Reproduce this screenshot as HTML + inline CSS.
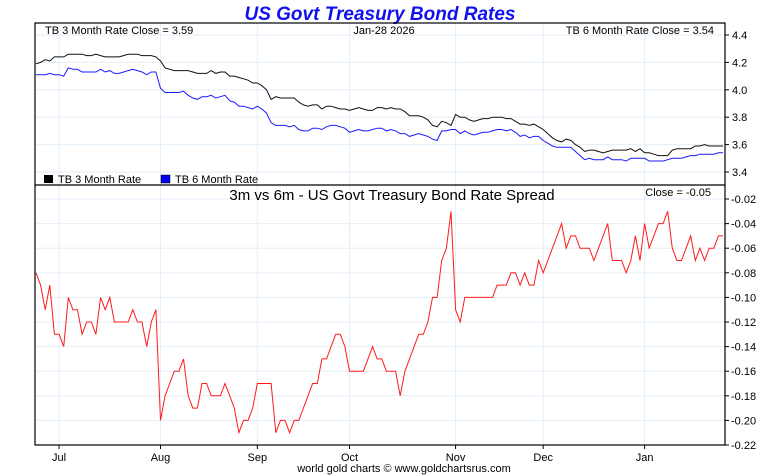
<!DOCTYPE html>
<html><head><meta charset="utf-8"><style>
body{margin:0;background:#fff;}
svg{display:block;font-family:"Liberation Sans",sans-serif;}
</style></head><body>
<svg id="chart" width="760" height="475">
<text x="380" y="20" text-anchor="middle" font-size="19" font-weight="bold" font-style="italic" fill="#1111ee">US Govt Treasury Bond Rates</text>
<g id="grid"></g>
<g id="series"></g>
<rect x="35" y="23" width="690" height="422" fill="none" stroke="#000" stroke-width="1.2"/>
<line x1="35" y1="185" x2="725" y2="185" stroke="#000" stroke-width="1.2"/>
<text x="45" y="34" font-size="11">TB 3 Month Rate Close = 3.59</text>
<text x="384" y="34" text-anchor="middle" font-size="11">Jan-28  2026</text>
<text x="714" y="34" text-anchor="end" font-size="11">TB 6 Month Rate Close = 3.54</text>
<g>
<rect x="44" y="175" width="9" height="8" fill="#000"/>
<text x="58" y="183" font-size="11">TB 3 Month Rate</text>
<rect x="161" y="175" width="9" height="8" fill="#0000ee" stroke="#000" stroke-width="0.5"/>
<text x="175" y="183" font-size="11">TB 6 Month Rate</text>
</g>
<text x="392" y="200" text-anchor="middle" font-size="15">3m vs 6m - US Govt Treasury Bond Rate Spread</text>
<text x="711" y="196" text-anchor="end" font-size="11">Close = -0.05</text>
<text x="404" y="472" text-anchor="middle" font-size="11">world gold charts © www.goldchartsrus.com</text>
</svg>
<script>
const monthLabels=["Jul","Aug","Sep","Oct","Nov","Dec","Jan"];
const monthIndex=[6,28,49,69,92,111,133];
const rateTicks=[4.4,4.2,4.0,3.8,3.6,3.4];
const spreadTicks=[-0.02,-0.04,-0.06,-0.08,-0.10,-0.12,-0.14,-0.16,-0.18,-0.20,-0.22];
const tb3=[4.19,4.20,4.22,4.21,4.24,4.24,4.24,4.26,4.26,4.26,4.26,4.25,4.25,4.26,4.25,4.24,4.24,4.24,4.24,4.25,4.26,4.26,4.26,4.25,4.25,4.25,4.24,4.21,4.16,4.15,4.14,4.14,4.14,4.14,4.13,4.12,4.12,4.12,4.14,4.12,4.13,4.13,4.10,4.10,4.09,4.08,4.07,4.05,4.05,4.03,4.00,3.93,3.95,3.94,3.94,3.94,3.94,3.91,3.89,3.88,3.89,3.89,3.86,3.88,3.88,3.87,3.86,3.86,3.85,3.86,3.87,3.86,3.85,3.85,3.87,3.87,3.86,3.87,3.86,3.86,3.84,3.81,3.81,3.81,3.80,3.78,3.74,3.73,3.77,3.76,3.74,3.82,3.80,3.80,3.78,3.77,3.78,3.79,3.79,3.80,3.80,3.80,3.79,3.79,3.77,3.75,3.75,3.74,3.75,3.73,3.71,3.68,3.65,3.63,3.62,3.64,3.63,3.60,3.58,3.55,3.56,3.56,3.55,3.54,3.55,3.56,3.56,3.56,3.56,3.57,3.55,3.57,3.54,3.54,3.53,3.52,3.52,3.52,3.56,3.57,3.57,3.57,3.57,3.59,3.59,3.60,3.59,3.59,3.59,3.59];
const spread=[-0.08,-0.09,-0.11,-0.09,-0.13,-0.13,-0.14,-0.10,-0.11,-0.11,-0.13,-0.12,-0.12,-0.13,-0.10,-0.11,-0.10,-0.12,-0.12,-0.12,-0.12,-0.11,-0.12,-0.12,-0.14,-0.12,-0.11,-0.20,-0.18,-0.17,-0.16,-0.16,-0.15,-0.18,-0.19,-0.19,-0.17,-0.17,-0.18,-0.18,-0.18,-0.17,-0.18,-0.19,-0.21,-0.20,-0.20,-0.19,-0.17,-0.17,-0.17,-0.17,-0.21,-0.20,-0.20,-0.21,-0.20,-0.20,-0.19,-0.18,-0.17,-0.17,-0.15,-0.15,-0.14,-0.13,-0.13,-0.14,-0.16,-0.16,-0.16,-0.16,-0.15,-0.14,-0.15,-0.15,-0.16,-0.16,-0.16,-0.18,-0.16,-0.15,-0.14,-0.13,-0.13,-0.12,-0.10,-0.10,-0.07,-0.06,-0.03,-0.11,-0.12,-0.10,-0.10,-0.10,-0.10,-0.10,-0.10,-0.10,-0.09,-0.09,-0.09,-0.08,-0.08,-0.09,-0.08,-0.09,-0.09,-0.07,-0.08,-0.07,-0.06,-0.05,-0.04,-0.06,-0.05,-0.05,-0.06,-0.06,-0.06,-0.07,-0.06,-0.05,-0.04,-0.07,-0.07,-0.07,-0.08,-0.07,-0.05,-0.07,-0.04,-0.06,-0.05,-0.04,-0.04,-0.03,-0.06,-0.07,-0.07,-0.06,-0.05,-0.07,-0.06,-0.07,-0.06,-0.06,-0.05,-0.05];
const tb6=tb3.map((v,i)=>v+spread[i]);

const NS="http://www.w3.org/2000/svg";
const n=spread.length;
function xs(i){return 36+(723-36)*i/(n-1);}
function yr(v){return 35+(4.4-v)/1.0*137;}
function ysp(v){return 199+(-0.02-v)/0.20*246;}
function mk(tag,attrs,parent){const e=document.createElementNS(NS,tag);for(const k in attrs)e.setAttribute(k,attrs[k]);parent.appendChild(e);return e;}
const grid=document.getElementById('grid'), ser=document.getElementById('series'), svg=document.getElementById('chart');

rateTicks.forEach(t=>{
  const y=yr(t);
  const g=mk('line',{x1:35,x2:725,y1:y,y2:y,stroke:'#e3eef8'},grid);
  
  
  const tk=mk('line',{x1:725,x2:729,y1:y,y2:y,stroke:'#000'},svg);
  
  
  const tx=mk('text',{x:732,y:y+4,'font-size':11},svg);
  tx.textContent=t.toFixed(1);
  
  
});
spreadTicks.forEach(t=>{
  const y=ysp(t);
  const g=mk('line',{x1:35,x2:725,y1:y,y2:y,stroke:'#e3eef8'},grid);
  
  
  const tk=mk('line',{x1:725,x2:729,y1:y,y2:y,stroke:'#000'},svg);
  
  
  const tx=mk('text',{x:731,y:y+4,'font-size':11},svg);
  tx.textContent=t.toFixed(2);
  
  
});
monthIndex.forEach((mi,k)=>{
  const x=xs(mi-1);
  const g=mk('line',{x1:x,x2:x,y1:23,y2:445,stroke:'#e3eef8'},grid);
  
  
  const tk=mk('line',{x1:x,x2:x,y1:445,y2:449,stroke:'#000'},svg);
  
  
  const tx=mk('text',{x:x,y:461,'font-size':11,'text-anchor':'middle'},svg);
  tx.textContent=monthLabels[k];
  
  
});
function path(arr,yf){return arr.map((v,i)=>(i?'L':'M')+xs(i).toFixed(1)+' '+yf(v).toFixed(1)).join(' ');}
const l6=mk('path',{d:path(tb6,yr),fill:'none',stroke:'#1a1aff','stroke-width':1},ser);


const l3=mk('path',{d:path(tb3,yr),fill:'none',stroke:'#111','stroke-width':1},ser);


const ls=mk('path',{d:path(spread,ysp),fill:'none',stroke:'#ff1a1a','stroke-width':1},ser);


</script>
</body></html>
